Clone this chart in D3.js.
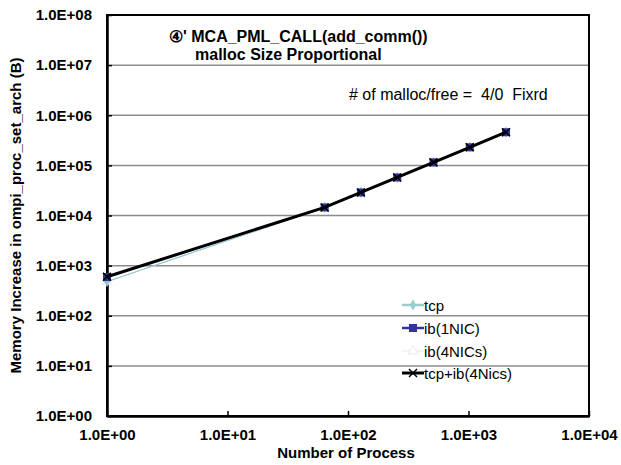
<!DOCTYPE html>
<html>
<head>
<meta charset="utf-8">
<script src="https://cdn.jsdelivr.net/npm/d3@7"></script>
<style>
  body { margin: 0; background: #fff; }
  svg { display: block; font-family: Arial, "Liberation Sans", sans-serif; }
</style>
</head>
<body>
<svg id="chart" width="621" height="465"></svg>
<script>
// Number of processes
const processes = [1, 64, 128, 256, 512, 1024, 2048];

// Memory increase (bytes) per configuration
const tcpValues     = [480, 14400, 28700, 57300, 114600, 229000, 458000];
const ib1Values     = [590, 14500, 28800, 57400, 114700, 229300, 458500];
const ib4Values     = [480, 14400, 28700, 57300, 114600, 229000, 458000];
const tcpIb4Values  = [600, 14500, 28800, 57400, 114700, 229300, 458500];

const seriesNames = ["tcp", "ib(1NIC)", "ib(4NICs)", "tcp+ib(4Nics)"];

const xTicks = [1, 10, 100, 1000, 10000];
const yTicks = [1, 10, 100, 1000, 1e4, 1e5, 1e6, 1e7, 1e8];
const xTickLabels = ["1.0E+00", "1.0E+01", "1.0E+02", "1.0E+03", "1.0E+04"];
const yTickLabels = ["1.0E+00", "1.0E+01", "1.0E+02", "1.0E+03", "1.0E+04",
                     "1.0E+05", "1.0E+06", "1.0E+07", "1.0E+08"];

const svg = d3.select("#chart");
const margin = { left: 107, right: 32, top: 15, bottom: 49 };
const W = 621, H = 465;
const FONT = 15;

const x = d3.scaleLog().domain([1, 10000]).range([margin.left, W - margin.right]);
const y = d3.scaleLog().domain([1, 1e8]).range([H - margin.bottom, margin.top]);

// horizontal gridlines at each decade
svg.append("g")
  .selectAll("line")
  .data(yTicks.slice(1, -1))
  .join("line")
  .attr("x1", x(1)).attr("x2", x(10000))
  .attr("y1", d => y(d)).attr("y2", d => y(d))
  .attr("stroke", "#8c8c8c").attr("stroke-width", 1.5);

// plot area frame
svg.append("rect")
  .attr("x", x(1)).attr("y", y(1e8))
  .attr("width", x(10000) - x(1)).attr("height", y(1) - y(1e8))
  .attr("fill", "none").attr("stroke", "#000").attr("stroke-width", 2);

// axes
const xAxis = d3.axisBottom(x).tickValues(xTicks)
  .tickFormat((d, i) => xTickLabels[i]).tickSize(0).tickPadding(13);
const gx = svg.append("g").attr("transform", `translate(0,${y(1)})`).call(xAxis);
gx.select(".domain").attr("stroke", "#000").attr("stroke-width", 2.5);
gx.selectAll(".tick").append("line")
  .attr("y1", -5).attr("y2", 0).attr("stroke", "#000").attr("stroke-width", 1.5);
gx.selectAll("text").attr("font-size", FONT).attr("font-weight", "bold").attr("fill", "#000");

const yAxis = d3.axisLeft(y).tickValues(yTicks)
  .tickFormat((d, i) => yTickLabels[i]).tickSize(0).tickPadding(15);
const gy = svg.append("g").attr("transform", `translate(${x(1)},0)`).call(yAxis);
gy.select(".domain").attr("stroke", "#000").attr("stroke-width", 2.5);
gy.selectAll(".tick").append("line")
  .attr("x1", 0).attr("x2", 5).attr("stroke", "#000").attr("stroke-width", 1.5);
gy.selectAll("text").attr("font-size", FONT).attr("font-weight", "bold").attr("fill", "#000");

// axis titles
svg.append("text")
  .attr("x", (x(1) + x(10000)) / 2 - 2).attr("y", 458)
  .attr("text-anchor", "middle").attr("font-size", FONT).attr("font-weight", "bold")
  .text("Number of Process");
svg.append("text")
  .attr("transform", `translate(21,${(y(1) + y(1e8)) / 2}) rotate(-90)`)
  .attr("text-anchor", "middle").attr("font-size", FONT).attr("font-weight", "bold")
  .text("Memory Increase in ompi_proc_set_arch (B)");

// chart title and note
svg.append("text").attr("x", 169).attr("y", 42)
  .attr("font-size", 16).attr("font-weight", "bold")
  .text("④' MCA_PML_CALL(add_comm())");
svg.append("text").attr("x", 195).attr("y", 60)
  .attr("font-size", 16).attr("font-weight", "bold")
  .text("malloc Size Proportional");
svg.append("text").attr("x", 349).attr("y", 100)
  .attr("font-size", 16).attr("xml:space", "preserve")
  .text("# of malloc/free =  4/0  Fixrd");

// series styling; drawing order keeps the black series on top
const series = [
  { name: seriesNames[0], values: tcpValues,    color: "#99cccc", width: 1,   marker: "diamond" },
  { name: seriesNames[1], values: ib1Values,    color: "#333399", width: 1.5, marker: "square" },
  { name: seriesNames[2], values: ib4Values,    color: "#f4f4f4", width: 1,   marker: "triangle" },
  { name: seriesNames[3], values: tcpIb4Values, color: "#000000", width: 3,   marker: "cross" }
];
const drawOrder = [2, 0, 1, 3];

const line = d3.line().x(d => x(d[0])).y(d => y(d[1]));

function drawMarker(g, type, color, cx, cy) {
  if (type === "diamond") {
    g.append("path").attr("d", d3.symbol(d3.symbolDiamond, 34)())
      .attr("transform", `translate(${cx},${cy})`).attr("fill", color);
  } else if (type === "square") {
    g.append("rect").attr("x", cx - 4).attr("y", cy - 4).attr("width", 8).attr("height", 8)
      .attr("fill", color);
  } else if (type === "triangle") {
    g.append("path").attr("d", d3.symbol(d3.symbolTriangle, 40)())
      .attr("transform", `translate(${cx},${cy})`)
      .attr("fill", "#fff").attr("stroke", "#dfe5f0").attr("stroke-width", 0.8);
  } else {
    g.append("path").attr("d", `M${cx - 4},${cy - 4}L${cx + 4},${cy + 4}M${cx - 4},${cy + 4}L${cx + 4},${cy - 4}`)
      .attr("stroke", color).attr("stroke-width", 1.5);
  }
}

drawOrder.forEach(k => {
  const s = series[k];
  const g = svg.append("g");
  const pts = processes.map((p, i) => [p, s.values[i]]);
  g.append("path").datum(pts).attr("d", line)
    .attr("fill", "none").attr("stroke", s.name === "ib(4NICs)" ? "#a8c0e8" : s.color)
    .attr("stroke-width", s.width);
  pts.forEach(p => drawMarker(g, s.marker, s.color, x(p[0]), y(p[1])));
});

// legend
const legend = svg.append("g");
const legendY = [305, 328, 351, 373];
series.forEach((s, i) => {
  const ly = legendY[i];
  legend.append("line").attr("x1", 402).attr("x2", 424).attr("y1", ly).attr("y2", ly)
    .attr("stroke", s.color).attr("stroke-width", Math.max(s.width, 2.5));
  drawMarker(legend, s.marker, s.color, 413, ly);
  legend.append("text").attr("x", 424).attr("y", ly + 5.5)
    .attr("font-size", FONT).text(s.name);
});
</script>
</body>
</html>
